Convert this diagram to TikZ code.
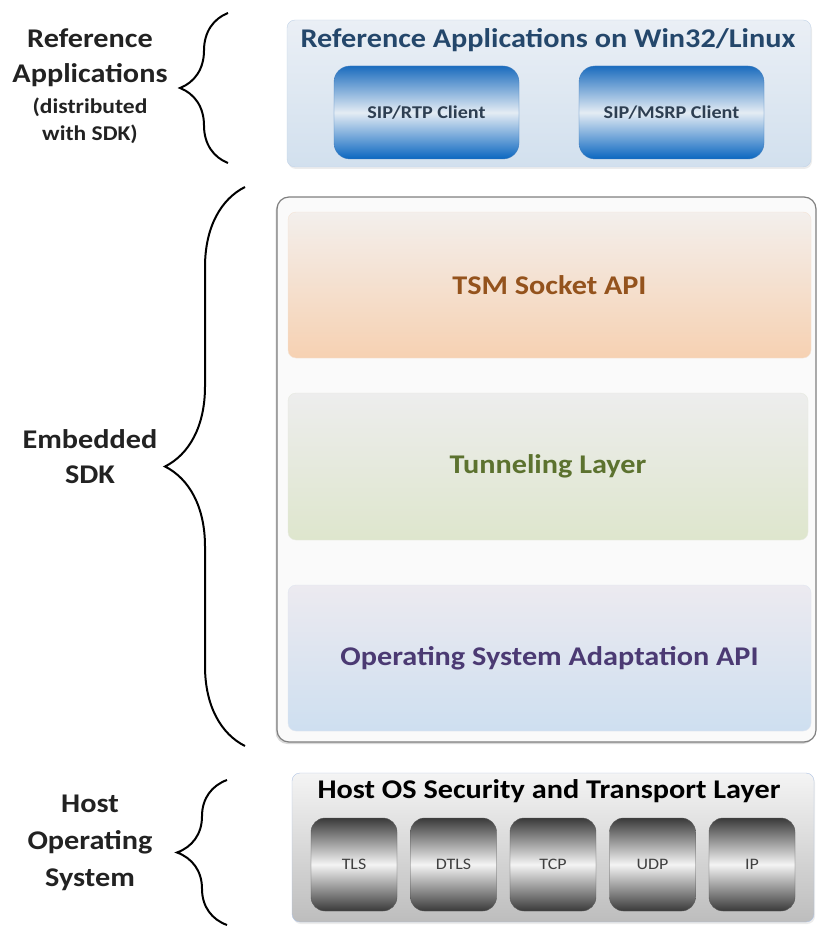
\documentclass[tikz,border=0pt]{standalone}
\usepackage{fontspec}
\setmainfont{Carlito}[FakeStretch=1.12]
\usepackage{tikz}
\usetikzlibrary{shadings,shadows,decorations.pathreplacing}

\definecolor{sidegray}{HTML}{222222}
\definecolor{titleblue}{HTML}{24476B}
\definecolor{refrim}{HTML}{C3D4E8}
\definecolor{reftop}{HTML}{EAEFF5}
\definecolor{refbot}{HTML}{D2E0EE}
\definecolor{clientrim}{HTML}{3F7DBE}
\definecolor{clienttop}{HTML}{1B6CBE}
\definecolor{clientmid}{HTML}{E4ECF4}
\definecolor{clientbot}{HTML}{0A66C0}
\definecolor{clienttext}{HTML}{2E3F52}
\definecolor{sdkrim}{HTML}{7F7F7F}
\definecolor{sdkfill}{HTML}{FAFAFA}
\definecolor{tsmtop}{HTML}{F3EFEC}
\definecolor{tsmbot}{HTML}{F6D1B2}
\definecolor{tsmtext}{HTML}{94531D}
\definecolor{tuntop}{HTML}{EDEDED}
\definecolor{tunbot}{HTML}{DEE6CD}
\definecolor{tuntext}{HTML}{5C722F}
\definecolor{ostop}{HTML}{ECEAF0}
\definecolor{osbot}{HTML}{CEDFF0}
\definecolor{ostext}{HTML}{4B3A73}
\definecolor{hostrim}{HTML}{AFC3E3}
\definecolor{hosttop}{HTML}{F4F4F4}
\definecolor{hostbot}{HTML}{BDBDBD}
\definecolor{protorim}{HTML}{5A5A5A}
\definecolor{protodark}{HTML}{3A3A3A}
\definecolor{protolight}{HTML}{F4F4F4}
\definecolor{prototext}{HTML}{404040}

\begin{document}
\begin{tikzpicture}[x=1pt, y=-1pt, inner sep=0pt,
  bigtext/.style={font=\fontsize{27}{35}\selectfont\bfseries},
  sidelabel/.style={bigtext, align=center, text=sidegray},
  clientbox/.style={rounded corners=16pt, minimum width=185pt, minimum height=93pt,
    draw=clientrim, top color=clienttop, bottom color=clientbot, middle color=clientmid,
    font=\fontsize{18}{20}\selectfont\bfseries, text=clienttext},
  protobox/.style={rounded corners=14pt, minimum width=86pt, minimum height=93pt,
    draw=protorim, top color=protodark, bottom color=protodark, middle color=protolight,
    font=\fontsize{16}{18}\selectfont, text=prototext},
  layer/.style={rounded corners=8pt, minimum width=523pt, minimum height=146pt, bigtext},
  sidebrace/.style={decorate, decoration={brace, amplitude=#1}, line width=2pt, draw=black}
]
\useasboundingbox (0,0) rectangle (819,928);

\node[rounded corners=8pt, minimum width=524pt, minimum height=147pt, draw=refrim,
  top color=reftop, bottom color=refbot,
  drop shadow={shadow xshift=1pt, shadow yshift=-2pt, opacity=0.15}] (refbox) at (549,93.5) {};
\node[bigtext, text=titleblue] (reftitle) at (548,40) {Reference Applications on Win32/Linux};
\node[clientbox] (rtpclient) at (426.5,112.5) {SIP/RTP Client};
\node[clientbox] (msrpclient) at (671.5,112.5) {SIP/MSRP Client};

\node[rounded corners=12pt, minimum width=539pt, minimum height=545pt, draw=sdkrim,
  line width=1.2pt, fill=sdkfill,
  drop shadow={shadow xshift=-1.5pt, shadow yshift=-2pt, opacity=0.3}] (sdkbox) at (546.5,469.5) {};
\node[layer, draw=tsmtop!60!tsmbot, top color=tsmtop, bottom color=tsmbot, text=tsmtext] (tsm) at (549.5,285) {TSM Socket API};
\node[layer, draw=tuntop!60!tunbot, top color=tuntop, bottom color=tunbot, text=tuntext, minimum width=520pt, minimum height=147pt] (tunnel) at (548,466.5) {Tunneling Layer};
\node[layer, draw=ostop!60!osbot, top color=ostop, bottom color=osbot, text=ostext] (osapi) at (549.5,658) {Operating System Adaptation API};

\node[rounded corners=8pt, minimum width=522pt, minimum height=149pt, draw=hostrim,
  top color=hosttop, bottom color=hostbot,
  drop shadow={shadow xshift=1pt, shadow yshift=-2pt, opacity=0.15}] (hostbox) at (553,847.5) {};
\node[bigtext, text=black] (hosttitle) at (549,791) {Host OS Security and Transport Layer};
\node[protobox] (tls) at (354,864.5) {TLS};
\node[protobox] (dtls) at (453.5,864.5) {DTLS};
\node[protobox] (tcp) at (553,864.5) {TCP};
\node[protobox] (udp) at (652.5,864.5) {UDP};
\node[protobox] (ip) at (752,864.5) {IP};

\node[sidelabel] (refapps) at (90,58) {Reference\\Applications};
\node[sidelabel, font=\fontsize{21}{27}\selectfont\bfseries] (refnote) at (90,120.5) {(distributed\\with SDK)};
\node[sidelabel] (sdklabel) at (90,457) {Embedded\\SDK};
\node[sidelabel, font=\fontsize{27}{37}\selectfont\bfseries] (hostlabel) at (90,843) {Host\\Operating\\System};

\coordinate (refbraceb) at (228,163);
\coordinate (refbracet) at (228,13);
\coordinate (sdkbraceb) at (245,746);
\coordinate (sdkbracet) at (245,187);
\coordinate (hostbraceb) at (227,925);
\coordinate (hostbracet) at (227,780);
\draw[sidebrace=48] (refbraceb) -- (refbracet);
\draw[sidebrace=80] (sdkbraceb) -- (sdkbracet);
\draw[sidebrace=50] (hostbraceb) -- (hostbracet);
\end{tikzpicture}
\end{document}
